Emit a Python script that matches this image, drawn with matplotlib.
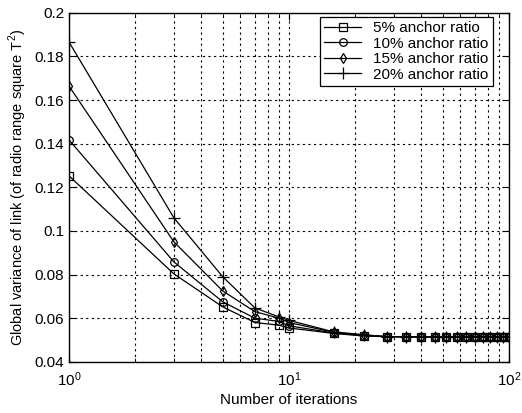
import numpy as np
import matplotlib.pyplot as plt

plt.rcParams['font.family'] = ['Liberation Sans', 'DejaVu Sans']
plt.rcParams['mathtext.fontset'] = 'custom'
plt.rcParams['mathtext.rm'] = 'Liberation Sans'

iterations = [1, 3, 5, 7, 9, 10, 16, 22, 28, 34, 40, 46, 52, 58, 64, 70, 76, 82, 88, 94, 100]
tail = [0.0515] * 13

var_5 = [0.1253, 0.0803, 0.0652, 0.0580, 0.0568, 0.0555, 0.0530, 0.0518] + tail
var_10 = [0.1418, 0.0858, 0.0675, 0.0600, 0.0585, 0.0565, 0.0532, 0.0520] + tail
var_15 = [0.1665, 0.0950, 0.0725, 0.0630, 0.0600, 0.0580, 0.0535, 0.0522] + tail
var_20 = [0.1867, 0.1060, 0.0790, 0.0647, 0.0606, 0.0590, 0.0537, 0.0524] + tail

labels = ['5% anchor ratio', '10% anchor ratio', '15% anchor ratio', '20% anchor ratio']
markers = ['s', 'o', 'd', '+']

fig = plt.figure(figsize=(5.22, 4.13), dpi=100)
ax = fig.add_axes([0.132, 0.124, 0.843, 0.845])

for ys, lab, m in zip([var_5, var_10, var_15, var_20], labels, markers):
    ax.plot(iterations, ys, color='black', linewidth=0.9, marker=m,
            markersize=5.5 if m != '+' else 8, markerfacecolor='none',
            markeredgecolor='black', markeredgewidth=0.9, label=lab)

ax.set_xscale('log')
ax.set_xlim(1, 100)
ax.set_ylim(0.04, 0.2)
ax.set_yticks([0.04, 0.06, 0.08, 0.1, 0.12, 0.14, 0.16, 0.18, 0.2])
ax.set_yticklabels(['0.04', '0.06', '0.08', '0.1', '0.12', '0.14', '0.16', '0.18', '0.2'])

ax.grid(True, which='major', color='black', linestyle=(0, (2, 3)), linewidth=0.8)
ax.grid(True, which='minor', axis='x', color='black', linestyle=(0, (2, 3)), linewidth=0.8)
ax.tick_params(which='both', direction='in', top=True, right=True, labelsize=11)
ax.tick_params(axis='x', which='major', pad=6)
ax.tick_params(which='major', length=5)
ax.tick_params(which='minor', length=3)
for s in ax.spines.values():
    s.set_linewidth(1.0)

ax.set_xlabel('Number of iterations', fontsize=11, labelpad=3)
ax.set_ylabel('Global variance of link (of radio range square T$^2$)', fontsize=10.5, labelpad=4)

leg = ax.legend(loc='upper right', bbox_to_anchor=(0.964, 0.989), borderaxespad=0,
                fontsize=11, fancybox=False, edgecolor='black',
                framealpha=1, handlelength=2.4, labelspacing=0.1, borderpad=0.3)
leg.get_frame().set_linewidth(0.9)

fig.savefig('out.png', dpi=100)
